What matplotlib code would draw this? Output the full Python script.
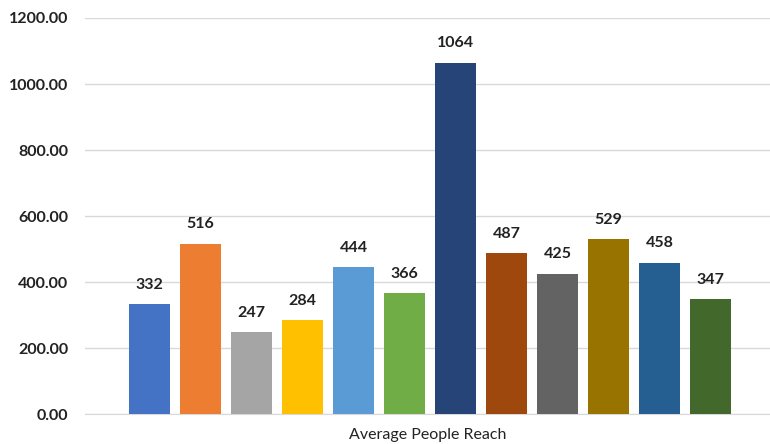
import matplotlib.pyplot as plt
import numpy as np

plt.rcParams['font.family'] = ['Lato', 'DejaVu Sans']

values = [332, 516, 247, 284, 444, 366, 1064, 487, 425, 529, 458, 347]
colors = ['#4472C4', '#ED7D31', '#A5A5A5', '#FFC000', '#5B9BD5', '#70AD47',
          '#264478', '#9E480E', '#636363', '#997300', '#255E91', '#43682B']
yticks = [0, 200, 400, 600, 800, 1000, 1200]
xlabel = 'Average People Reach'

fig = plt.figure(figsize=(7.7, 4.44), dpi=100)
ax = fig.add_axes([85 / 770, 30 / 444, 685 / 770, 396 / 444])

x = np.arange(len(values))
bars = ax.bar(x, values, width=0.8, color=colors, zorder=3)

for xi, v in zip(x, values):
    ax.annotate(str(v), (xi, v), xytext=(0, 9), textcoords='offset points',
                ha='center', va='bottom', fontsize=11.5, fontweight='bold', color='#222222')

ax.set_ylim(0, 1200)
ax.set_xlim(-1.26, 12.16)
ax.set_yticks(yticks)
ax.set_yticklabels(['%.2f' % t for t in yticks], fontsize=11.5, fontweight='bold', color='#222222')
ax.set_xticks([])
ax.set_xlabel(xlabel, fontsize=11.5, color='#222222', labelpad=10)
ax.yaxis.grid(True, color='#D9D9D9', linewidth=1, zorder=0)
ax.tick_params(axis='y', length=0, pad=12)
for s in ['top', 'right', 'left']:
    ax.spines[s].set_visible(False)
ax.spines['bottom'].set_color('#D9D9D9')

plt.savefig('out.png', dpi=100)
